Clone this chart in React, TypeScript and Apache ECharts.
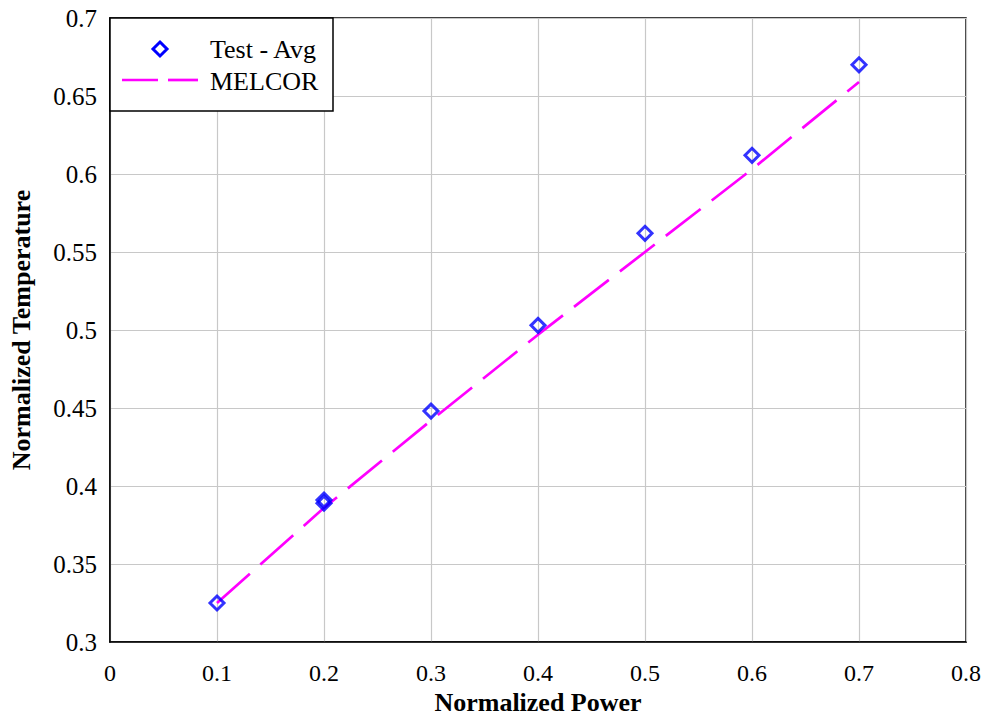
import React, { useEffect, useRef } from "react";
import * as echarts from "echarts";

const testX = [0.1, 0.2, 0.2, 0.3, 0.4, 0.5, 0.6, 0.7];
const testY = [0.325, 0.391, 0.389, 0.448, 0.503, 0.562, 0.612, 0.67];
const melcorX = [0.1, 0.2, 0.3, 0.4, 0.5, 0.6, 0.7];
const melcorY = [0.325, 0.386, 0.442, 0.497, 0.55, 0.603, 0.659];
const xTicks = [0, 0.1, 0.2, 0.3, 0.4, 0.5, 0.6, 0.7, 0.8];
const yTicks = [0.3, 0.35, 0.4, 0.45, 0.5, 0.55, 0.6, 0.65, 0.7];
const seriesNames = ["Test - Avg", "MELCOR"];
const xTitle = "Normalized Power";
const yTitle = "Normalized Temperature";

const FONT = "'Liberation Serif', 'Times New Roman', serif";
const BLUE = "#0000ff";
const MAGENTA = "#ff00ff";

export default function App() {
  const ref = useRef<HTMLDivElement>(null);
  useEffect(() => {
    document.body.style.margin = "0";
    const chart = echarts.init(ref.current!, null, { renderer: "svg" });
    const fmt = (v: number) => String(+v.toFixed(2));
    chart.setOption({
      animation: false,
      backgroundColor: "#ffffff",
      grid: {
        left: 110,
        right: 19,
        top: 18,
        bottom: 77,
        show: true,
        borderColor: "#000",
        borderWidth: 1.5,
        backgroundColor: "transparent",
        outerBoundsMode: "none",
      },
      xAxis: {
        type: "value",
        min: xTicks[0],
        max: xTicks[xTicks.length - 1],
        interval: 0.1,
        name: xTitle,
        nameLocation: "middle",
        nameGap: 35,
        nameTextStyle: { fontFamily: FONT, fontSize: 26, fontWeight: "bold", color: "#000" },
        axisLine: { show: true, lineStyle: { color: "#000", width: 1.5 } },
        axisTick: { show: false },
        axisLabel: { fontFamily: FONT, fontSize: 24, color: "#000", margin: 19, formatter: fmt },
        splitLine: { show: true, lineStyle: { color: "#c8c8c8", width: 1.2 } },
      },
      yAxis: {
        type: "value",
        min: yTicks[0],
        max: yTicks[yTicks.length - 1],
        interval: 0.05,
        name: yTitle,
        nameLocation: "middle",
        nameGap: 76,
        nameRotate: 90,
        nameTextStyle: { fontFamily: FONT, fontSize: 26, fontWeight: "bold", color: "#000" },
        axisLine: { show: true, lineStyle: { color: "#000", width: 1.5 } },
        axisTick: { show: false },
        axisLabel: { fontFamily: FONT, fontSize: 25, color: "#000", margin: 13, formatter: fmt },
        splitLine: { show: true, lineStyle: { color: "#c8c8c8", width: 1.2 } },
      },
      series: [
        {
          name: seriesNames[1],
          type: "line",
          data: melcorX.map((x, i) => [x, melcorY[i]]),
          showSymbol: false,
          symbol: "none",
          lineStyle: { color: MAGENTA, width: 2.7, type: [44, 14] },
          z: 2,
        },
        {
          name: seriesNames[0],
          type: "scatter",
          data: testX.map((x, i) => [x, testY[i]]),
          symbol: "diamond",
          symbolSize: 14,
          itemStyle: { color: "rgba(0,0,0,0)", borderColor: BLUE, borderWidth: 3 },
          z: 3,
        },
      ],
      graphic: [
        {
          type: "rect",
          shape: { x: 110, y: 18, width: 223, height: 93 },
          style: { fill: "#fff", stroke: "#000", lineWidth: 1.5 },
          z: 10,
        },
        {
          type: "polygon",
          shape: { points: [[160, 42], [167, 49], [160, 56], [153, 49]] },
          style: { fill: "none", stroke: BLUE, lineWidth: 3 },
          z: 11,
        },
        {
          type: "line",
          shape: { x1: 122, y1: 80, x2: 158, y2: 80 },
          style: { stroke: MAGENTA, lineWidth: 2.7 },
          z: 11,
        },
        {
          type: "line",
          shape: { x1: 168, y1: 80, x2: 198, y2: 80 },
          style: { stroke: MAGENTA, lineWidth: 2.7 },
          z: 11,
        },
        {
          type: "text",
          x: 210,
          y: 49,
          style: { text: seriesNames[0], fontFamily: FONT, fontSize: 26, fill: "#000", verticalAlign: "middle", align: "left" },
          z: 11,
        },
        {
          type: "text",
          x: 210,
          y: 81,
          style: { text: seriesNames[1], fontFamily: FONT, fontSize: 26, fill: "#000", verticalAlign: "middle", align: "left" },
          z: 11,
        },
      ],
    });
    return () => chart.dispose();
  }, []);
  return <div ref={ref} style={{ width: 985, height: 719 }} />;
}
